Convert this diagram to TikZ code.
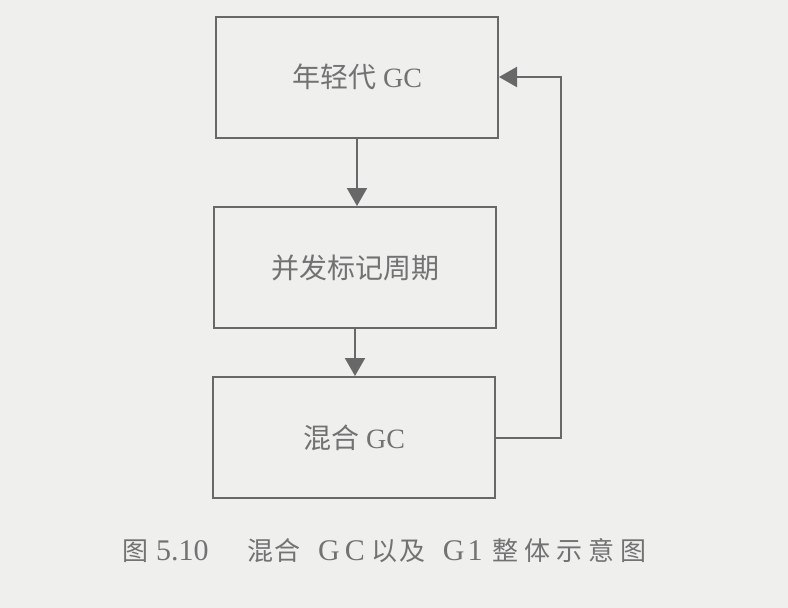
\documentclass[tikz,border=0pt]{standalone}
\usepackage{fontspec}
\setmainfont{Liberation Serif}
\newfontfamily\cjk{Noto Sans CJK SC}
\usetikzlibrary{arrows.meta}
\definecolor{paper}{HTML}{EFEFED}
\definecolor{ink}{HTML}{686868}
\definecolor{txt}{HTML}{727272}
\tikzset{
  stage/.style={draw=ink, line width=2pt, fill=paper, minimum width=282pt,
    minimum height=121pt, inner sep=0pt, text=txt, font=\fontsize{28}{30}\selectfont},
  flow/.style={draw=ink, line width=2pt, -{Triangle[width=20pt,length=18pt]}},
  capt/.style={text=txt, font=\fontsize{30}{32}\selectfont, inner sep=0pt}
}
% caption CJK set a little smaller than the Latin parts
\newcommand\capcjk[1]{{\fontsize{26}{28}\selectfont\cjk #1}}
\begin{document}
\begin{tikzpicture}[x=1pt,y=-1pt]
  \fill[paper] (0,0) rectangle (788,608);
  \useasboundingbox (0,0) rectangle (788,608);
  \node[stage] (young) at (357,77) {{\cjk 年轻代} GC};
  \node[stage] (mark) at (355,267.5) {\cjk 并发标记周期};
  \node[stage] (mixed) at (354,437.5) {{\cjk 混合} GC};
  \coordinate (turn) at (561,437.5);
  \draw[flow] (young.south) -- (young.south |- mark.north);
  \draw[flow] (mark.south) -- (mark.south |- mixed.north);
  \draw[flow] (mixed.east) -- (turn) |- (young.east);
  \node[capt, anchor=west] (fig) at (122,551) {\capcjk{图}\hspace{8pt}5.10};
  \node[capt, anchor=west] (title) at (247,551)
    {\capcjk{混\hspace{1pt}合}\hspace{18pt}G\hspace{5pt}C\hspace{7pt}\capcjk{以\hspace{2pt}及}\hspace{17pt}G\hspace{3pt}1\hspace{10pt}\capcjk{整\hspace{6pt}体\hspace{6pt}示\hspace{6pt}意\hspace{6pt}图}};
\end{tikzpicture}
\end{document}
